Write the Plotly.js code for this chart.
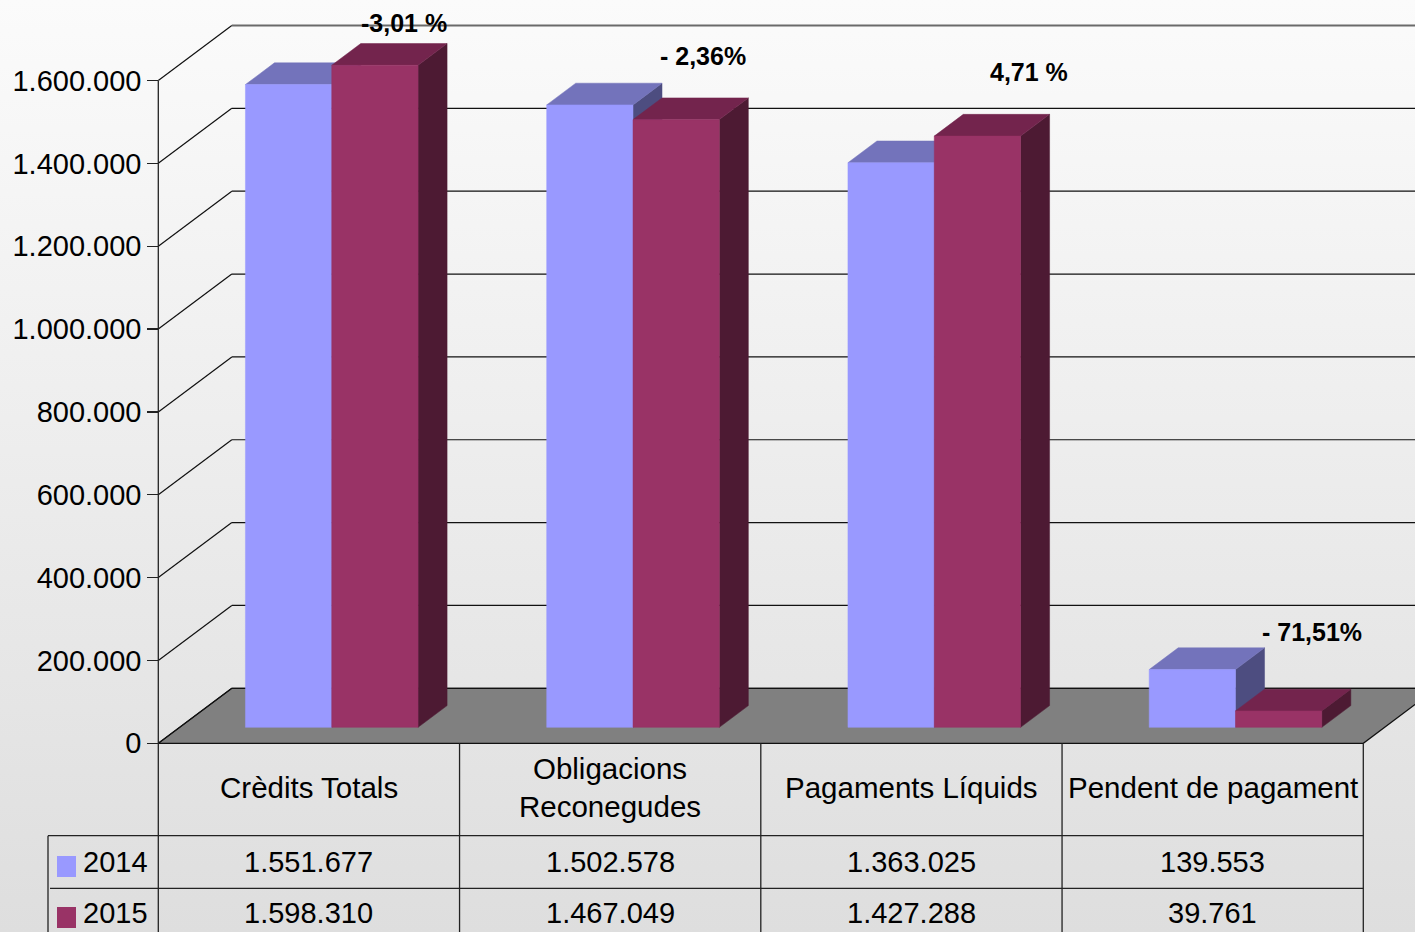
<!DOCTYPE html>
<html>
<head>
<meta charset="utf-8">
<script src="https://cdn.plot.ly/plotly-3.0.1.min.js"></script>
<style>
html, body { margin:0; padding:0; width:1415px; height:932px; overflow:hidden;
  background: linear-gradient(to bottom, #fbfbfb 0%, #dedede 100%); }
#chart { width:1415px; height:932px; }
</style>
</head>
<body>
<div id="chart"></div>
<script>
// ---- data ----
const categories = ["Crèdits Totals", "Obligacions<br>Reconegudes", "Pagaments Líquids", "Pendent de pagament"];
const seriesNames = ["2014", "2015"];
const values2014 = [1551677, 1502578, 1363025, 139553];
const values2015 = [1598310, 1467049, 1427288, 39761];
const pctLabels = ["-3,01 %", "- 2,36%", "4,71 %", "- 71,51%"];
const yTicks = [0, 200000, 400000, 600000, 800000, 1000000, 1200000, 1400000, 1600000];

// ---- geometry / style ----
const W = 1415, H = 932;
const X0PX = 158.3, COLPX = 301.25;           // front plane: x data 0..4 = columns
const Y0PX = 743.3, PXPERVAL = 82.85 / 200000; // y scale
const DX = 73.5 / COLPX;                       // full depth in x units
const DY = 55 / PXPERVAL;                      // full depth in y units
const F1 = 0.29, F2 = 0.685;                   // bar depth position
const BARW = 86.3 / COLPX;
const xMin = -X0PX / COLPX, xMax = (W - X0PX) / COLPX;
const yMin = -(H - Y0PX) / PXPERVAL, yMax = Y0PX / PXPERVAL;
const colors = {
  "2014": {front: "#9999FF", top: "#7373BB", side: "#4D4D80"},
  "2015": {front: "#993366", top: "#73244D", side: "#4D1A33"}
};
const FONT = "Liberation Sans, Arial, sans-serif";
const py = p => 1 - p / H;   // pixel -> paper y
const pxp = p => p / W;      // pixel -> paper x

function fmt(n) { return String(n).replace(/\B(?=(\d{3})+(?!\d))/g, "."); }

// ---- bars as 3D prisms ----
const traces = [];
const seriesVals = [values2014, values2015];
seriesVals.forEach((vals, s) => {
  const c = colors[seriesNames[s]];
  vals.forEach((v, i) => {
    const xl = i + 0.5 + 0.005 + (s === 0 ? -BARW : 0);
    const xr = xl + BARW;
    const a1 = F1 * DX, b1 = F1 * DY, a2 = F2 * DX, b2 = F2 * DY;
    const poly = (xs, ys, col) => traces.push({
      type: "scatter", mode: "lines", x: xs.concat([xs[0]]), y: ys.concat([ys[0]]),
      fill: "toself", fillcolor: col, line: {color: col, width: 0.5},
      hoverinfo: "skip", showlegend: false
    });
    // side face
    poly([xr + a1, xr + a2, xr + a2, xr + a1], [b1, b2, v + b2, v + b1], c.side);
    // top face
    poly([xl + a1, xr + a1, xr + a2, xl + a2], [v + b1, v + b1, v + b2, v + b2], c.top);
    // front face
    poly([xl + a1, xr + a1, xr + a1, xl + a1], [b1, b1, v + b1, v + b1], c.front);
  });
});

// ---- walls, floor, gridlines ----
const shapes = [];
shapes.push({type: "path", layer: "below", xref: "x", yref: "y",
  path: `M 0 0 L 4 0 L ${4 + DX} ${DY} L ${DX} ${DY} Z`,
  fillcolor: "#808080", line: {color: "#111", width: 1.2}});
yTicks.forEach((v, k) => {
  const last = k === yTicks.length - 1;
  shapes.push({type: "line", layer: "below", xref: "x", yref: "y",
    x0: 0, y0: v, x1: DX, y1: v + DY, line: {color: "#111", width: 1.2}});
  shapes.push({type: "line", layer: "below", xref: "x", yref: "y",
    x0: DX, y0: v + DY, x1: xMax, y1: v + DY,
    line: {color: last ? "#6a6a6a" : "#111", width: last ? 2 : 1.2}});
});
// front axis line
shapes.push({type: "line", xref: "x", yref: "y", x0: 0, x1: 0, y0: yTicks[yTicks.length - 1], y1: yMin,
  line: {color: "#222", width: 1.3}});

// ---- table ----
const tl = {color: "#222", width: 1.3};
[1, 2, 3, 4].forEach(i => shapes.push({type: "line", xref: "x", yref: "paper",
  x0: i, x1: i, y0: py(743.3), y1: py(H + 2), line: tl}));
shapes.push({type: "line", xref: "paper", yref: "paper", x0: pxp(48), x1: pxp(48), y0: py(835.7), y1: py(H + 2), line: tl});
shapes.push({type: "line", xref: "paper", yref: "paper", x0: pxp(48), x1: pxp(1363.3), y0: py(835.7), y1: py(835.7), line: tl});
shapes.push({type: "line", xref: "paper", yref: "paper", x0: pxp(50), x1: pxp(1363.3), y0: py(888.3), y1: py(888.3), line: tl});
// legend keys
const rowY = [862, 913];
seriesNames.forEach((n, s) => {
  shapes.push({type: "rect", xref: "paper", yref: "paper",
    x0: pxp(57), x1: pxp(76), y0: py(rowY[s] - 6), y1: py(rowY[s] + 15),
    fillcolor: colors[n].front, line: {width: 0}});
});

const annotations = [];
categories.forEach((c, i) => annotations.push({
  xref: "x", yref: "paper", x: i + 0.5, y: py(787), text: c, showarrow: false,
  xanchor: "center", yanchor: "middle", font: {family: FONT, size: 29.5, color: "#000"}}));
seriesVals.forEach((vals, s) => {
  annotations.push({xref: "paper", yref: "paper", x: pxp(81), y: py(rowY[s]), text: seriesNames[s],
    showarrow: false, xanchor: "left", yanchor: "middle", font: {family: FONT, size: 29, color: "#000"}});
  vals.forEach((v, i) => annotations.push({xref: "x", yref: "paper", x: i + 0.5, y: py(rowY[s]),
    text: fmt(v), showarrow: false, xanchor: "center", yanchor: "middle",
    font: {family: FONT, size: 29, color: "#000"}}));
});
const pctPos = [[404, 23], [703, 56], [1029, 72], [1312, 632]];
pctLabels.forEach((t, i) => annotations.push({xref: "paper", yref: "paper",
  x: pxp(pctPos[i][0]), y: py(pctPos[i][1]), text: "<b>" + t + "</b>", showarrow: false,
  xanchor: "center", yanchor: "middle", font: {family: FONT, size: 25, color: "#000"}}));

const layout = {
  width: W, height: H, autosize: false,
  margin: {l: 0, r: 0, t: 0, b: 0, pad: 0},
  paper_bgcolor: "rgba(0,0,0,0)", plot_bgcolor: "rgba(0,0,0,0)",
  separators: ",.",
  showlegend: false,
  xaxis: {range: [xMin, xMax], visible: false, fixedrange: true},
  yaxis: {range: [yMin, yMax], anchor: "free", position: X0PX / W,
    tickvals: yTicks, tickformat: ",d", ticks: "outside", ticklen: 11, tickwidth: 1.3,
    tickcolor: "#222", showgrid: false, zeroline: false, showline: false,
    tickfont: {family: FONT, size: 29, color: "#000"}, fixedrange: true},
  shapes: shapes,
  annotations: annotations
};
Plotly.newPlot("chart", traces, layout, {staticPlot: true, displayModeBar: false});
</script>
</body>
</html>
